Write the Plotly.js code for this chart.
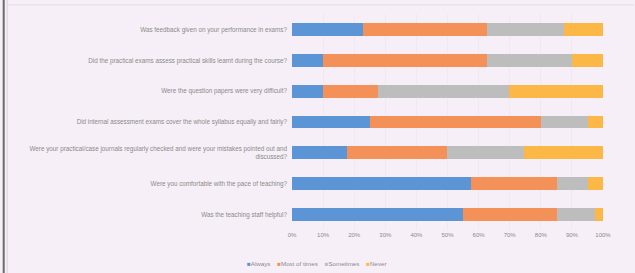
<!DOCTYPE html>
<html><head><meta charset="utf-8">
<script src="https://cdn.plot.ly/plotly-3.0.1.min.js"></script>
<style>html,body{margin:0;padding:0;background:#f7eff7;}#chart{width:635px;height:273px;}</style>
</head><body><div id="chart"></div>
<script>
const questions = [
  "Was feedback given on your performance in exams?",
  "Did the practical exams assess practical skills learnt during the course?",
  "Were the question papers were very difficult?",
  "Did internal assessment exams cover the whole syllabus equally and fairly?",
  "Were your practical/case journals regularly checked and were your mistakes pointed out and<br>discussed?",
  "Were you comfortable with the pace of teaching?",
  "Was the teaching staff helpful?"
];
const seriesNames = ["Always", "Most of times", "Sometimes", "Never"];
const always      = [22.7,  9.9,  9.9, 25.1, 17.6, 57.5, 54.9];
const mostOfTimes = [40.1, 52.9, 17.7, 55.1, 32.2, 27.7, 30.3];
const sometimes   = [24.6, 27.1, 42.2, 14.9, 24.8,  9.9, 12.1];
const never       = [12.6, 10.1, 30.2,  4.9, 25.4,  4.9,  2.7];
const tickVals = [0,10,20,30,40,50,60,70,80,90,100];
const tickText = ["0%","10%","20%","30%","40%","50%","60%","70%","80%","90%","100%"];

const colors = ["#5b95d6", "#f39159", "#bdbdbd", "#fbb847"];
const values = [always, mostOfTimes, sometimes, never];
const traces = values.map((v, i) => ({
  type: "bar", orientation: "h", name: seriesNames[i],
  y: questions, x: v, marker: {color: colors[i]}, width: 0.42,
  hoverinfo: "x+name"
}));

const legendText = seriesNames.map((n, i) =>
  '<span style="color:' + colors[i] + '">■</span>' + n).join('&nbsp;&nbsp;&nbsp;&nbsp;');

const layout = {
  width: 635, height: 273,
  margin: {l: 292, r: 32, t: 14, b: 43},
  paper_bgcolor: "#f7eff7", plot_bgcolor: "#f7eff7",
  barmode: "stack", bargap: 0.58,
  font: {family: "Liberation Sans, Arial, sans-serif", size: 6.3, color: "#8a8a8a"},
  xaxis: {range: [0, 100], tickvals: tickVals, ticktext: tickText, showgrid: true,
          gridcolor: "#ece4ec", gridwidth: 0.5, zeroline: false, showline: false,
          ticks: "", ticklen: 0, tickfont: {size: 6, color: "#8a8a8a"}, fixedrange: true},
  yaxis: {autorange: "reversed", showgrid: false, zeroline: false, showline: false,
          ticks: "", ticklabelstandoff: 4, tickfont: {size: 6.3, color: "#8a8a8a"}},
  showlegend: false,
  annotations: [
    {xref: "paper", yref: "paper", x: 0.0804, y: -0.153, xanchor: "center", yanchor: "middle",
     showarrow: false, text: legendText, font: {size: 6.2, color: "#8a8a8a"}}
  ],
  shapes: [
    {type: "line", xref: "paper", yref: "paper", x0: -0.927, x1: -0.927, y0: -0.3, y1: 1.1,
     line: {color: "#6a6a6a", width: 2}},
    {type: "line", xref: "paper", yref: "paper", x0: -0.916, x1: -0.916, y0: -0.3, y1: 1.1,
     line: {color: "#d6d0d8", width: 1}},
    {type: "line", xref: "paper", yref: "paper", x0: -0.916, x1: 1.1, y0: 1.042, y1: 1.042,
     line: {color: "#e2dce4", width: 1}}
  ]
};
Plotly.newPlot("chart", traces, layout, {displayModeBar: false, staticPlot: true});
</script></body></html>
